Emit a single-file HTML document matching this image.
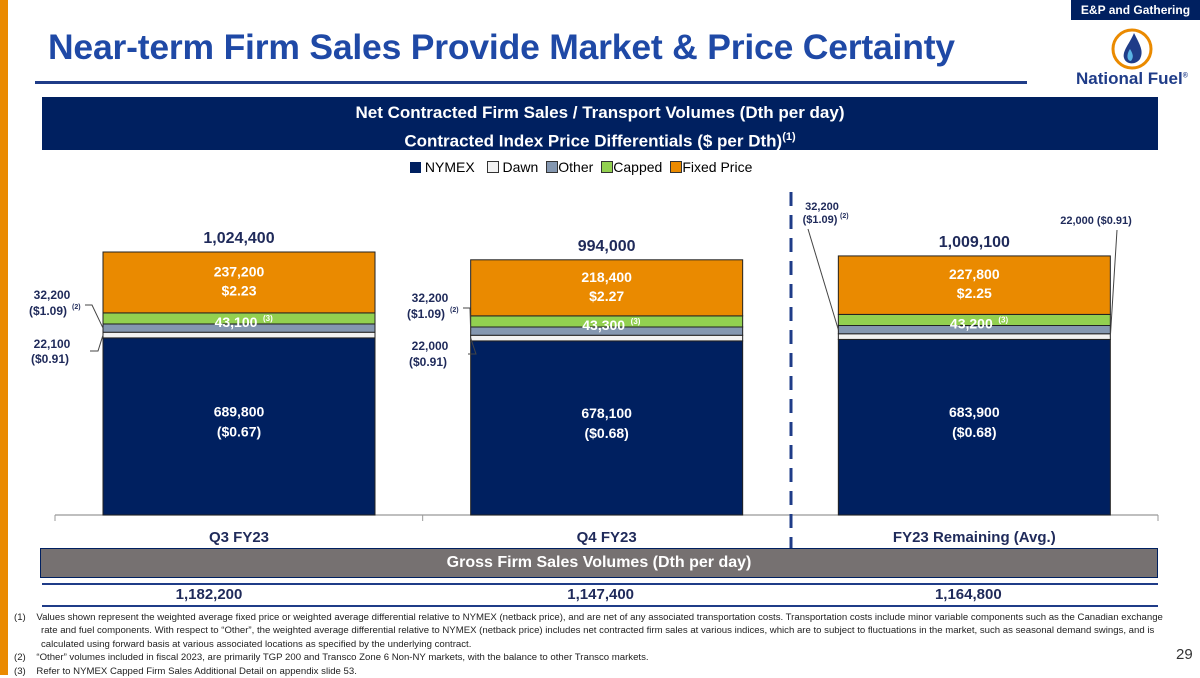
<!DOCTYPE html>
<html><head><meta charset="utf-8"><style>
body{margin:0;width:1200px;height:675px;position:relative;overflow:hidden;background:#fff;font-family:"Liberation Sans",sans-serif}
.a{position:absolute}
</style></head><body>
<div class="a" style="left:0;top:0;width:8px;height:675px;background:#ea8a00"></div>
<div class="a" style="left:1071px;top:0;width:129px;height:20px;background:#002060;color:#fff;font-size:12px;font-weight:bold;text-align:center;line-height:20px">E&amp;P and Gathering</div>
<div class="a" style="left:48px;top:27px;font-size:35.5px;font-weight:bold;color:#1f49a6;letter-spacing:-0.2px">Near-term Firm Sales Provide Market &amp; Price Certainty</div>
<div class="a" style="left:35px;top:81px;width:992px;height:3px;background:#1f3c88"></div>
<svg class="a" style="left:1110px;top:27px" width="44" height="44"><circle cx="22" cy="22" r="19" fill="none" stroke="#ea8a00" stroke-width="3"/><path d="M24 6 C30 18 34 24 30 32 C26 38 16 38 14 31 C12 24 20 16 24 6Z" fill="#1f3c88"/><path d="M20 22 C23 27 24 30 21 34 C17 34 16 28 20 22Z" fill="#5ab4e5"/></svg>
<div class="a" style="left:1076px;top:69px;font-size:17px;font-weight:bold;color:#1f3c88">National Fuel<sup style="font-size:7px">®</sup></div>
<div class="a" style="left:42px;top:97px;width:1116px;height:53px;background:#002060;color:#fff;text-align:center;font-size:17px;font-weight:bold;line-height:25px;padding-top:3px;box-sizing:border-box">Net Contracted Firm Sales / Transport Volumes (Dth per day)<br>Contracted Index Price Differentials ($ per Dth)<sup style="font-size:11px">(1)</sup></div>
<div class="a" style="left:410px;top:159px;font-size:14px;color:#000;display:flex;gap:8px;align-items:center">
<span><span style="display:inline-block;width:11px;height:11px;background:#002060;vertical-align:-1px"></span> NYMEX</span>
<span>&nbsp;<span style="display:inline-block;width:10px;height:10px;background:#f2f2f2;border:1px solid #333;vertical-align:-1px"></span> Dawn</span>
<span><span style="display:inline-block;width:10px;height:10px;background:#8497b0;border:1px solid #333;vertical-align:-1px"></span>Other</span>
<span><span style="display:inline-block;width:10px;height:10px;background:#92d050;border:1px solid #333;vertical-align:-1px"></span>Capped</span>
<span><span style="display:inline-block;width:10px;height:10px;background:#ea8a00;border:1px solid #333;vertical-align:-1px"></span>Fixed Price</span>
</div>
<svg class="a" id="chart" style="left:0;top:0" width="1200" height="675"></svg>
<div class="a" style="left:40px;top:548px;width:1118px;height:30px;background:#767171;border:1px solid #002060;box-sizing:border-box;color:#fff;font-size:16px;font-weight:bold;text-align:center;line-height:28px">Gross Firm Sales Volumes (Dth per day)</div>
<div class="a" style="left:42px;top:583px;width:1116px;height:2px;background:#1f3c88"></div>
<div class="a" style="left:42px;top:605px;width:1116px;height:2px;background:#1f3c88"></div>
<div class="a" style="left:8px;top:611px;width:1160px;font-size:9.6px;line-height:13.4px;color:#222">
<div style="padding-left:33px;text-indent:-27px">(1)&nbsp;&nbsp;&nbsp;&nbsp;Values shown represent the weighted average fixed price or weighted average differential relative to NYMEX (netback price), and are net of any associated transportation costs.  Transportation costs include minor variable components such as the Canadian exchange rate and fuel components. With respect to “Other”, the weighted average differential relative to NYMEX (netback price) includes net contracted firm sales at various indices, which are to subject to fluctuations in the market, such as seasonal demand swings, and is calculated using forward basis at various associated locations as specified by the underlying contract.</div>
<div style="padding-left:33px;text-indent:-27px">(2)&nbsp;&nbsp;&nbsp;&nbsp;“Other” volumes included in fiscal 2023, are primarily TGP 200 and Transco Zone 6 Non-NY markets, with the balance to other Transco markets.</div>
<div style="padding-left:33px;text-indent:-27px">(3)&nbsp;&nbsp;&nbsp;&nbsp;Refer to NYMEX Capped Firm Sales Additional Detail on appendix slide 53.</div>
</div>
<div class="a" style="left:1176px;top:646px;font-size:15px;color:#333">29</div>
<script>
const categories=["Q3 FY23","Q4 FY23","FY23 Remaining (Avg.)"];
const nymex=[689800,678100,683900];
const dawn=[22100,22000,22000];
const other=[32200,32200,32200];
const capped=[43100,43300,43200];
const fixed=[237200,218400,227800];
const totals=["1,024,400","994,000","1,009,100"];
const nymexPrice=["($0.67)","($0.68)","($0.68)"];
const fixedPrice=["$2.23","$2.27","$2.25"];
const dawnPrice=["($0.91)","($0.91)","($0.91)"];
const otherPrice=["($1.09)","($1.09)","($1.09)"];
const gross=["1,182,200","1,147,400","1,164,800"];
const svg=document.getElementById('chart');const NS="http://www.w3.org/2000/svg";
const base=515,scale=263/1024400,x0=55,x1=1158,bw=272;
const y=v=>base-v*scale;const band=i=>x0+(x1-x0)/3*i+48;
function el(t,a,p){const e=document.createElementNS(NS,t);for(const k in a)e.setAttribute(k,a[k]);(p||svg).appendChild(e);return e}
const fmt=n=>n.toLocaleString('en-US');
function txt(s,x,yy,o){o=o||{};const t=el('text',{x:x,y:yy,'text-anchor':o.a||'middle','font-size':o.s||14,'font-weight':'bold',fill:o.f||'#1f2a5a','font-family':'Liberation Sans, sans-serif'});t.textContent=s;return t}
el('line',{x1:x0,y1:base,x2:x1,y2:base,stroke:'#999','stroke-width':1.2});
for(let i=0;i<4;i++){const tx=x0+(x1-x0)/3*i;const t=el('line',{x1:tx,y1:base,x2:tx,y2:base+6,stroke:'#999'});}
el('line',{x1:791,y1:192,x2:791,y2:548,stroke:'#1f3c88','stroke-width':3,'stroke-dasharray':'14 9'});
const cols=['#002060','#f2f2f2','#8497b0','#92d050','#ea8a00'];const names=['nymex','dawn','other','capped','fixed'];
const series=[nymex,dawn,other,capped,fixed];
categories.forEach((c,i)=>{const bx=band(i);let cum=0;const ys=[];
series.forEach((s,k)=>{const y0=y(cum),y1=y(cum+s[i]);ys.push([y1,y0]);
const r=el('rect',{x:bx,y:y1,width:bw,height:y0-y1,fill:cols[k],stroke:'#222','stroke-width':1});
cum+=s[i];});
const cx=bx+bw/2;
const tl=txt(totals[i],cx,y(cum)-9,{s:16});
const fm=(ys[4][0]+ys[4][1])/2;txt(fmt(fixed[i]),cx,fm-6,{f:'#fff',s:14});txt(fixedPrice[i],cx,fm+13,{f:'#fff',s:14});
txt(fmt(capped[i])+'',cx-3,ys[3][1]+3,{f:'#fff',s:14});txt('(3)',cx+24,ys[3][1]-3,{f:'#fff',s:8,a:'start'});
const nm=(ys[0][0]+base)/2;txt(fmt(nymex[i]),cx,nm-10,{f:'#fff',s:14});txt(nymexPrice[i],cx,nm+10,{f:'#fff',s:14});
const g=txt(gross[i],i==0?cx-30:cx-6,599,{s:15});
const cl=txt(categories[i],cx,542,{s:15});
const oy=(ys[2][0]+ys[2][1])/2,dy=(ys[1][0]+ys[1][1])/2;
if(i<2){const lx=i==0?22:400;
txt(fmt(other[i]),lx+30,i==0?299:302,{s:12});txt(otherPrice[i],lx+26,i==0?315:318,{s:12});txt('(2)',lx+50,i==0?309:312,{s:7,a:'start'});
el('polyline',{points:`${lx+63},${i==0?305:308} ${lx+70},${i==0?305:308} ${bx},${oy}`,fill:'none',stroke:'#444'});
txt(fmt(dawn[i]),lx+30,i==0?348:350,{s:12});txt(dawnPrice[i],lx+28,i==0?363:366,{s:12});
el('polyline',{points:`${lx+68},${i==0?351:354} ${lx+76},${i==0?351:354} ${bx},${dy}`,fill:'none',stroke:'#444'});
}else{
txt(fmt(other[i]),822,210,{s:11});txt(otherPrice[i],820,223,{s:11});txt('(2)',840,218,{s:7,a:'start'});
el('line',{x1:808,y1:229,x2:bx,y2:oy,stroke:'#444'});
txt(fmt(dawn[i])+'  '+dawnPrice[i],1096,224,{s:11});
el('line',{x1:1117,y1:230,x2:bx+bw,y2:dy,stroke:'#444'});}
});
</script>
</body></html>
